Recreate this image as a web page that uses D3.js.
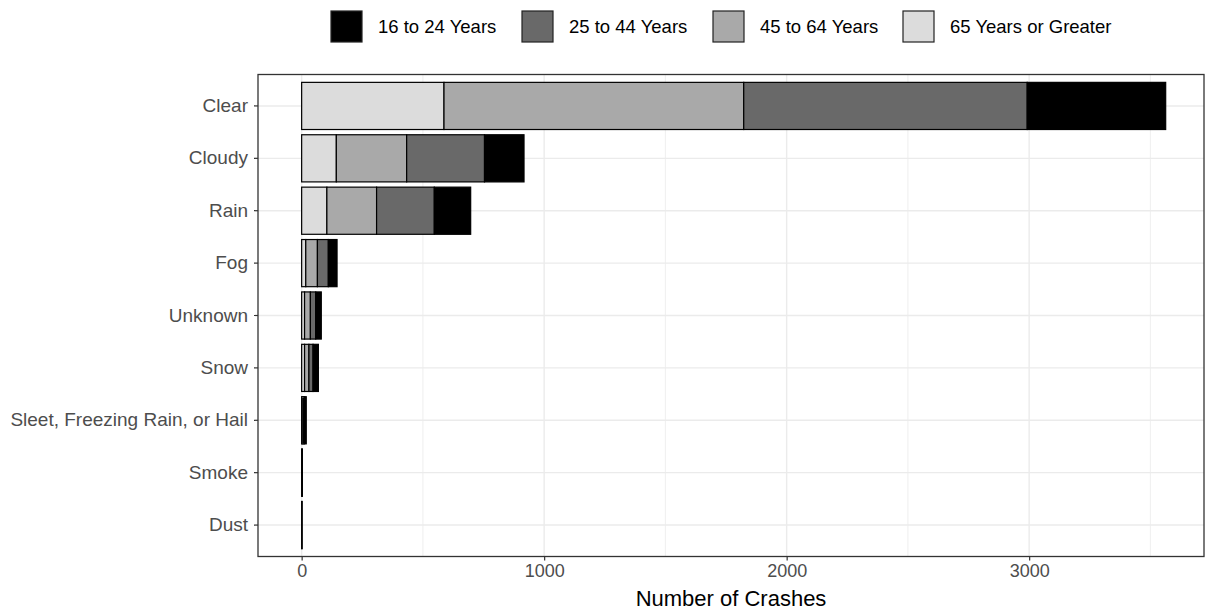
<!DOCTYPE html>
<html>
<head>
<meta charset="utf-8">
<script src="https://cdn.jsdelivr.net/npm/d3@7"></script>
<style>
  body { margin: 0; background: #fff; }
  svg text { font-family: "Liberation Sans", Arial, sans-serif; }
</style>
</head>
<body>
<div id="chart"></div>
<script>
// Weather conditions, top to bottom
const conditions = ['Clear', 'Cloudy', 'Rain', 'Fog', 'Unknown', 'Snow',
    'Sleet, Freezing Rain, or Hail', 'Smoke', 'Dust'];

// Crash counts per age group (same order as conditions)
const age65plus = [587, 143, 104, 17, 12, 12, 2, 0, 0];
const age45to64 = [1236, 290, 205, 48, 24, 18, 5, 1, 1];
const age25to44 = [1169, 321, 238, 45, 22, 17, 5, 1, 1];
const age16to24 = [571, 163, 150, 36, 23, 22, 7, 1, 0];

const ageGroups = ['16 to 24 Years', '25 to 44 Years', '45 to 64 Years', '65 Years or Greater'];
const xTicks = [0, 1000, 2000, 3000];
const xMinor = [500, 1500, 2500, 3500];

const W = 1208, H = 612;
const panel = { left: 258, right: 1204, top: 74.5, bottom: 556.5 };
const colors = {
    '16 to 24 Years': '#000000',
    '25 to 44 Years': '#696969',
    '45 to 64 Years': '#A9A9A9',
    '65 Years or Greater': '#DCDCDC'
};

const svg = d3.select('#chart').append('svg')
    .attr('width', W).attr('height', H);

// rows: leftmost segment is 65+, rightmost is 16-24
const rows = conditions.map((c, i) => ({
    condition: c,
    '65 Years or Greater': age65plus[i],
    '45 to 64 Years': age45to64[i],
    '25 to 44 Years': age25to44[i],
    '16 to 24 Years': age16to24[i]
}));
const stackKeys = ['65 Years or Greater', '45 to 64 Years', '25 to 44 Years', '16 to 24 Years'];
const series = d3.stack().keys(stackKeys)(rows);

const x = d3.scaleLinear().domain([-180, 3721]).range([panel.left, panel.right]);
const y = d3.scaleBand().domain(conditions)
    .range([panel.top, panel.bottom])
    .paddingInner(0.1).paddingOuter(0.15);

// Grid
const grid = svg.append('g');
grid.selectAll('.minor').data(xMinor).enter().append('line')
    .attr('x1', d => x(d)).attr('x2', d => x(d))
    .attr('y1', panel.top).attr('y2', panel.bottom)
    .attr('stroke', '#EBEBEB').attr('stroke-width', 0.8);
grid.selectAll('.major').data(xTicks).enter().append('line')
    .attr('x1', d => x(d)).attr('x2', d => x(d))
    .attr('y1', panel.top).attr('y2', panel.bottom)
    .attr('stroke', '#EBEBEB').attr('stroke-width', 1.4);
grid.selectAll('.hmajor').data(conditions).enter().append('line')
    .attr('x1', panel.left).attr('x2', panel.right)
    .attr('y1', d => y(d) + y.bandwidth() / 2).attr('y2', d => y(d) + y.bandwidth() / 2)
    .attr('stroke', '#EBEBEB').attr('stroke-width', 1.4);

// Bars
svg.append('g').selectAll('g').data(series).enter().append('g')
    .attr('fill', d => colors[d.key])
    .selectAll('rect').data(d => d).enter().append('rect')
    .attr('x', d => x(d[0]))
    .attr('y', d => y(d.data.condition))
    .attr('width', d => x(d[1]) - x(d[0]))
    .attr('height', y.bandwidth())
    .attr('stroke', '#000').attr('stroke-width', 1.2);

// Panel border
svg.append('rect')
    .attr('x', panel.left).attr('y', panel.top)
    .attr('width', panel.right - panel.left).attr('height', panel.bottom - panel.top)
    .attr('fill', 'none').attr('stroke', '#333333').attr('stroke-width', 1.3);

// X axis
const xAxis = svg.append('g')
    .attr('transform', `translate(0,${panel.bottom})`)
    .call(d3.axisBottom(x).tickValues(xTicks).tickSize(4).tickPadding(4).tickFormat(d3.format('d')));
xAxis.select('.domain').remove();
xAxis.selectAll('line').attr('stroke', '#333333').attr('stroke-width', 1.2);
xAxis.selectAll('text').attr('fill', '#4D4D4D').style('font-size', '18px');

// Y axis
const yAxis = svg.append('g')
    .attr('transform', `translate(${panel.left},0)`)
    .call(d3.axisLeft(y).tickSize(4).tickPadding(6));
yAxis.select('.domain').remove();
yAxis.selectAll('line').attr('stroke', '#333333').attr('stroke-width', 1.2);
yAxis.selectAll('text').attr('fill', '#4D4D4D').style('font-size', '19px');

// X title
svg.append('text')
    .attr('x', (panel.left + panel.right) / 2).attr('y', 606)
    .attr('text-anchor', 'middle')
    .style('font-size', '22px').attr('fill', '#000')
    .text('Number of Crashes');

// Legend
const legendX = [331, 522, 713, 903];
const legend = svg.append('g').selectAll('g').data(ageGroups).enter().append('g')
    .attr('transform', (d, i) => `translate(${legendX[i]},11)`);
legend.append('rect')
    .attr('width', 31).attr('height', 31)
    .attr('fill', d => colors[d])
    .attr('stroke', '#222').attr('stroke-width', 1.2);
legend.append('text')
    .attr('x', 47).attr('y', 16).attr('dy', '0.35em')
    .style('font-size', '18.5px').attr('fill', '#000')
    .text(d => d);
</script>
</body>
</html>
